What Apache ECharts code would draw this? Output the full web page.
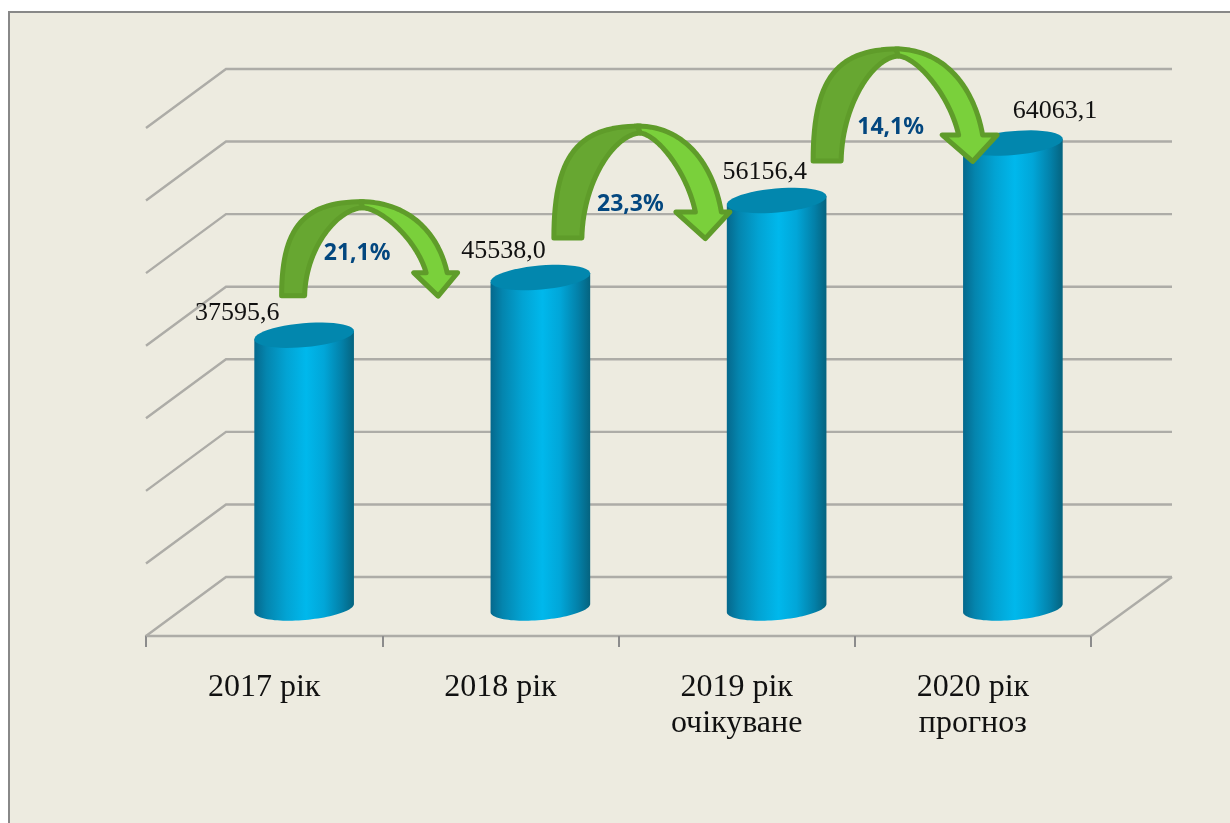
<!DOCTYPE html>
<html><head><meta charset="utf-8">
<style>html,body{margin:0;padding:0;background:#fff;overflow:hidden}#c{width:1230px;height:823px}</style>
<script src="https://cdn.jsdelivr.net/npm/echarts@6/dist/echarts.min.js"></script>
</head><body><div id="c"></div>
<script>
const categories = ['2017 рік', '2018 рік', '2019 рік\nочікуване', '2020 рік\nпрогноз'];
const values = [37595.6, 45538.0, 56156.4, 64063.1];
const growthLabels = ['21,1%', '23,3%', '14,1%'];
const wallTicks = [0, 10000, 20000, 30000, 40000, 50000, 60000, 70000];

// Presentation constants (not data)
const DEPTH = {x: 80, y: -59}, BAR_OFF = {x: 40, y: -28};
const RX = 50, RY = 12, TILT = -5 * Math.PI / 180;
const valueLabelOff = [[-67, -22], [-37, -26], [-12, -28], [42, -32]];
const pctOff = [[53, -82], [90, -73], [114, -73]];
const arrowGeo = [
  {foot: -25, w: 28, peak: 59, h: 99, inGap: 6, inn: 121, out: 144, bl: 106, br: 157, tip: 134, by: 28},
  {foot: 11, w: 33, peak: 100, h: 117, inGap: 7, inn: 154, out: 182, bl: 132, br: 193, tip: 165, by: 31},
  {foot: 34, w: 33, peak: 122, h: 117, inGap: 7, inn: 181, out: 207, bl: 162, br: 224, tip: 196, by: 31}
];
const LINE = '#adaca7';

function ell(cx, cy, t) {
  const c = Math.cos(t), s = Math.sin(t), C = Math.cos(TILT), S = Math.sin(TILT);
  return [cx + RX * c * C - RY * s * S, cy + RX * c * S + RY * s * C];
}
function ellipsePts(cx, cy, a, b) {
  const p = [];
  for (let i = 0; i <= 48; i++) p.push(ell(cx, cy, a + (b - a) * i / 48));
  return p;
}
function bez(p0, p1, p2, p3) {
  const r = [];
  for (let i = 0; i <= 30; i++) {
    const t = i / 30, u = 1 - t;
    r.push([u*u*u*p0[0] + 3*u*u*t*p1[0] + 3*u*t*t*p2[0] + t*t*t*p3[0],
            u*u*u*p0[1] + 3*u*u*t*p1[1] + 3*u*t*t*p2[1] + t*t*t*p3[1]]);
  }
  return r;
}
function hGrad(stops) {
  return {type: 'linear', x: 0, y: 0, x2: 1, y2: 0, colorStops: stops};
}
function renderWall(params, api) {
  const x0 = params.coordSys.x, x1 = x0 + params.coordSys.width;
  const y = api.coord([0, api.value(0)])[1];
  return {type: 'polyline', silent: true,
    shape: {points: [[x0, y], [x0 + DEPTH.x, y + DEPTH.y], [x1 + DEPTH.x + 1, y + DEPTH.y]]},
    style: {stroke: LINE, lineWidth: 2.4, fill: null}};
}
function renderBar(params, api) {
  const base = api.coord([api.value(0), 0]);
  const top = api.coord([api.value(0), api.value(1)]);
  const cx = base[0] + BAR_OFF.x, by = base[1] + BAR_OFF.y, ty = top[1] + BAR_OFF.y;
  const tl = ell(cx, ty, Math.PI), tr = ell(cx, ty, 0);
  const body = [tl, tr].concat(ellipsePts(cx, by, 0, Math.PI));
  return {type: 'group', children: [
    {type: 'polygon', shape: {points: body}, style: {fill: hGrad([
      {offset: 0, color: '#05688c'}, {offset: 0.12, color: '#0485ae'}, {offset: 0.32, color: '#02a3d3'},
      {offset: 0.52, color: '#00b8ec'}, {offset: 0.7, color: '#01a6d8'}, {offset: 0.88, color: '#0380a8'},
      {offset: 1, color: '#05637f'}])}},
    {type: 'polygon', shape: {points: ellipsePts(cx, ty, 0, Math.PI * 2)}, style: {fill: '#0287ae'}}
  ]};
}
function renderArrow(params, api) {
  const i = api.value(0), g = arrowGeo[i];
  const top = api.coord([i, api.value(1)]);
  const cx = top[0] + BAR_OFF.x, fy = top[1] + BAR_OFF.y - 37;
  const inset = 2.5;
  const xL = cx + g.foot + inset, xI = cx + g.foot + g.w - inset, y0 = fy - inset;
  const xP = cx + g.peak, yT = fy - g.h + inset, yI = yT + g.inGap;
  const yB = fy - g.by + inset;
  const xIn = cx + g.inn + inset * 0.4, xOut = cx + g.out - inset * 0.4;
  const H = y0 - yT;
  const left = bez([xL, y0], [xL, y0 - H * 0.74], [xL + (xP - xL) * 0.28, yT], [xP, yT])
    .concat(bez([xP, yI], [xI + (xP - xI) * 0.55, yI + 1], [xI + 1, y0 - H * 0.5], [xI, y0]));
  const right = bez([xP - 3, yT], [xP + (xOut - xP) * 0.55, yT], [xOut - (xOut - xP) * 0.1, yT + (yB - yT) * 0.45], [xOut, yB])
    .concat([[cx + g.br - 3.5, yB], [cx + g.tip, y0 + 0.5], [cx + g.bl + 3.5, yB], [xIn, yB]])
    .concat(bez([xIn, yB], [xIn - (xIn - xP) * 0.15, yI + (yB - yI) * 0.5], [xP + (xIn - xP) * 0.32, yI + 2], [xP, yI]));
  const st = (c) => ({fill: c, stroke: '#5f9c2a', lineWidth: 5, lineJoin: 'round'});
  return {type: 'group', silent: true, children: [
    {type: 'polygon', shape: {points: left}, style: st('#67a731')},
    {type: 'polygon', shape: {points: right}, style: st('#7ad03b')}
  ]};
}
function renderValueLabel(params, api) {
  const i = api.value(0), top = api.coord([i, api.value(1)]);
  const o = valueLabelOff[i];
  return {type: 'text', silent: true, style: {
    x: top[0] + BAR_OFF.x + o[0], y: top[1] + BAR_OFF.y + o[1],
    text: values[i].toFixed(1).replace('.', ','), align: 'center', verticalAlign: 'middle',
    font: '26px "Liberation Serif"', fill: '#111'}};
}
function renderPct(params, api) {
  const i = api.value(0), top = api.coord([i, api.value(1)]);
  const o = pctOff[i];
  return {type: 'text', silent: true, style: {
    x: top[0] + BAR_OFF.x + o[0], y: top[1] + BAR_OFF.y + o[1],
    text: growthLabels[i], align: 'center', verticalAlign: 'middle',
    font: 'bold 23px "Noto Sans"', fill: '#03477f'}};
}

const chart = echarts.init(document.getElementById('c'), null, {renderer: 'canvas'});
chart.setOption({
  animation: false,
  backgroundColor: '#ffffff',
  graphic: [{type: 'rect', z: -10, silent: true,
    shape: {x: 9, y: 12, width: 1260, height: 860},
    style: {fill: '#edebe0', stroke: '#888888', lineWidth: 2}},
    {type: 'line', silent: true, z: 1,
     shape: {x1: 1091, y1: 636, x2: 1172, y2: 577}, style: {stroke: LINE, lineWidth: 2.4}}],
  grid: {left: 146, right: 139, top: 128, bottom: 187},
  xAxis: {type: 'category', data: categories, boundaryGap: true,
    axisLine: {show: true, lineStyle: {color: LINE, width: 2.4}},
    axisTick: {show: true, alignWithLabel: false, length: 11, lineStyle: {color: '#8c8c8c', width: 2}},
    axisLabel: {margin: 34, interval: 0, color: '#111', fontFamily: 'Liberation Serif', fontSize: 32, lineHeight: 36}},
  yAxis: {type: 'value', min: 0, max: 70000, interval: 10000,
    axisLine: {show: false}, axisTick: {show: false}, axisLabel: {show: false}, splitLine: {show: false}},
  series: [
    {type: 'custom', name: 'wall', renderItem: renderWall, z: 1, data: wallTicks.map(v => [v]),
     encode: {y: 0}, silent: true, clip: false},
    {type: 'custom', name: 'bars', renderItem: renderBar, z: 2, data: values.map((v, i) => [i, v]),
     encode: {x: 0, y: 1}, silent: true, clip: false},
    {type: 'custom', name: 'arrows', renderItem: renderArrow, z: 3, data: growthLabels.map((t, i) => [i, values[i]]),
     encode: {x: 0, y: 1}, silent: true, clip: false},
    {type: 'custom', name: 'values', renderItem: renderValueLabel, z: 4, data: values.map((v, i) => [i, v]),
     encode: {x: 0, y: 1}, silent: true, clip: false},
    {type: 'custom', name: 'growth', renderItem: renderPct, z: 4, data: growthLabels.map((t, i) => [i, values[i]]),
     encode: {x: 0, y: 1}, silent: true, clip: false}
  ]
});
</script></body></html>
